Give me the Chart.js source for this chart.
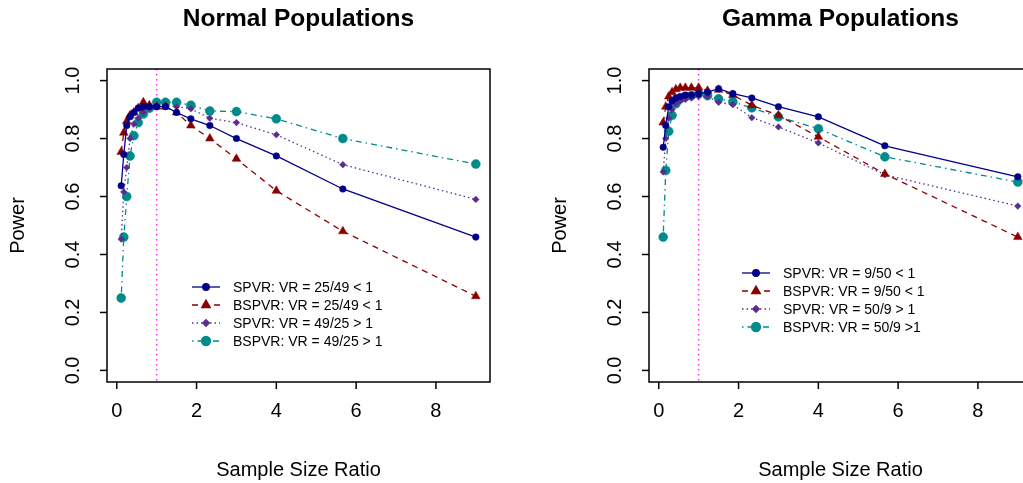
<!DOCTYPE html>
<html>
<head>
<meta charset="utf-8">
<script src="https://cdn.jsdelivr.net/npm/chart.js@4/dist/chart.umd.min.js"></script>
<style>
  html, body { margin: 0; padding: 0; background: #fff; overflow: hidden; width: 1023px; height: 483px; }
  canvas { position: absolute; top: 0; }
  #normal { left: 0; }
  #gamma { left: 542px; }
</style>
</head>
<body>
<canvas id="normal" width="542" height="483"></canvas>
<canvas id="gamma" width="542" height="483"></canvas>
<script>
// Sample size ratios (n1/n2)
const ratios = [0.111, 0.176, 0.25, 0.333, 0.429, 0.538, 0.667, 0.818, 1, 1.222, 1.5, 1.857, 2.333, 3, 4, 5.667, 9];

// Normal populations
const normSpvrLow   = [0.637, 0.745, 0.845, 0.875, 0.89, 0.905, 0.91, 0.91, 0.91, 0.91, 0.89, 0.868, 0.845, 0.80, 0.74, 0.626, 0.46];
const normBspvrLow  = [0.754, 0.82, 0.86, 0.88, 0.89, 0.905, 0.925, 0.915, 0.91, 0.91, 0.89, 0.845, 0.80, 0.73, 0.62, 0.48, 0.256];
const normSpvrHigh  = [0.453, 0.616, 0.70, 0.80, 0.85, 0.87, 0.89, 0.905, 0.91, 0.915, 0.91, 0.903, 0.87, 0.855, 0.813, 0.71, 0.59];
const normBspvrHigh = [0.25, 0.46, 0.60, 0.74, 0.81, 0.855, 0.885, 0.905, 0.925, 0.925, 0.925, 0.915, 0.895, 0.893, 0.868, 0.80, 0.712];
const normLabels = ['SPVR: VR = 25/49 < 1', 'BSPVR: VR = 25/49 < 1', 'SPVR: VR = 49/25 > 1', 'BSPVR: VR = 49/25 > 1'];

// Gamma populations
const gamSpvrLow   = [0.77, 0.845, 0.91, 0.93, 0.94, 0.945, 0.95, 0.95, 0.955, 0.96, 0.972, 0.955, 0.94, 0.91, 0.875, 0.775, 0.668];
const gamBspvrLow  = [0.855, 0.91, 0.945, 0.96, 0.97, 0.975, 0.975, 0.975, 0.975, 0.965, 0.968, 0.95, 0.915, 0.88, 0.806, 0.678, 0.46];
const gamSpvrHigh  = [0.685, 0.80, 0.87, 0.90, 0.92, 0.93, 0.935, 0.94, 0.945, 0.945, 0.925, 0.917, 0.872, 0.84, 0.785, 0.675, 0.567];
const gamBspvrHigh = [0.46, 0.69, 0.825, 0.88, 0.92, 0.937, 0.945, 0.948, 0.955, 0.948, 0.937, 0.927, 0.906, 0.875, 0.834, 0.737, 0.65];
const gamLabels = ['SPVR: VR = 9/50 < 1', 'BSPVR: VR = 9/50 < 1', 'SPVR: VR = 50/9 > 1', 'BSPVR: VR = 50/9 >1'];

const xTicks = [0, 2, 4, 6, 8];
const yTicks = [0, 0.2, 0.4, 0.6, 0.8, 1.0];

const FONT = "'Liberation Sans', Arial, Helvetica, sans-serif";

const styles = [
  { color: '#00008B', dash: [], pointStyle: 'circle', radius: 3.3 },
  { color: '#8B0000', dash: [6, 5], pointStyle: 'triangle', radius: 5 },
  { color: '#5B2C8F', dash: [1.5, 3], pointStyle: 'rectRot', radius: 3.3 },
  { color: '#008B8B', dash: [1.5, 4, 6, 4], pointStyle: 'circle', radius: 4.5 }
];

function pts(values) {
  return ratios.map((r, i) => ({ x: r, y: values[i] }));
}

function makeDatasets(series, labels) {
  return series.map((vals, i) => ({
    label: labels[i],
    data: pts(vals),
    borderColor: styles[i].color,
    backgroundColor: styles[i].color,
    borderWidth: 1.3,
    borderDash: styles[i].dash,
    pointStyle: styles[i].pointStyle,
    pointRadius: styles[i].radius,
    pointBorderWidth: 0.5,
    pointBackgroundColor: styles[i].color,
    pointBorderColor: styles[i].color,
    tension: 0
  }));
}

// R-style frame, axes, titles and legend
const rStyle = {
  id: 'rStyle',
  beforeDatasetsDraw(chart, args, opts) {
    const { ctx, chartArea: a, scales: { x, y } } = chart;
    ctx.save();
    // reference line at ratio 1
    ctx.strokeStyle = 'rgb(255, 40, 255)';
    ctx.lineWidth = 1.5;
    ctx.setLineDash([1.5, 3.5]);
    const x1 = x.getPixelForValue(1);
    ctx.beginPath();
    ctx.moveTo(x1, a.top);
    ctx.lineTo(x1, a.bottom);
    ctx.stroke();
    ctx.setLineDash([]);

    // box
    ctx.strokeStyle = '#000';
    ctx.lineWidth = 1.5;
    ctx.strokeRect(a.left, a.top, a.right - a.left, a.bottom - a.top);

    // x axis ticks + labels
    ctx.fillStyle = '#000';
    ctx.font = '20px ' + FONT;
    ctx.textAlign = 'center';
    ctx.textBaseline = 'middle';
    xTicks.forEach(v => {
      const px = x.getPixelForValue(v);
      ctx.beginPath();
      ctx.moveTo(px, a.bottom);
      ctx.lineTo(px, a.bottom + 7);
      ctx.stroke();
      ctx.fillText(String(v), px, a.bottom + 29);
    });
    // y axis ticks + rotated labels
    yTicks.forEach(v => {
      const py = y.getPixelForValue(v);
      ctx.beginPath();
      ctx.moveTo(a.left, py);
      ctx.lineTo(a.left - 7, py);
      ctx.stroke();
      ctx.save();
      ctx.translate(a.left - 34, py);
      ctx.rotate(-Math.PI / 2);
      ctx.fillText(v.toFixed(1), 0, 0);
      ctx.restore();
    });

    // axis titles
    ctx.fillText('Sample Size Ratio', (a.left + a.right) / 2, 470);
    ctx.save();
    ctx.translate(a.left - 89, (a.top + a.bottom) / 2);
    ctx.rotate(-Math.PI / 2);
    ctx.fillText('Power', 0, 0);
    ctx.restore();

    // main title
    ctx.font = 'bold 24.5px ' + FONT;
    ctx.fillText(opts.title, (a.left + a.right) / 2, 19);
    ctx.restore();
  },
  afterDraw(chart, args, opts) {
    const { ctx } = chart;
    ctx.save();
    ctx.font = '14px ' + FONT;
    ctx.textAlign = 'left';
    ctx.textBaseline = 'middle';
    chart.data.datasets.forEach((ds, i) => {
      const ly = opts.legendY + i * 18;
      const lx = opts.legendX;
      ctx.strokeStyle = ds.borderColor;
      ctx.fillStyle = ds.borderColor;
      ctx.lineWidth = 1.3;
      ctx.setLineDash(ds.borderDash);
      ctx.beginPath();
      ctx.moveTo(lx, ly);
      ctx.lineTo(lx + 28, ly);
      ctx.stroke();
      ctx.setLineDash([]);
      Chart.helpers.drawPoint(ctx, {
        pointStyle: ds.pointStyle, radius: ds.pointRadius, rotation: 0, borderWidth: 0.5
      }, lx + 14, ly);
      ctx.fillStyle = '#000';
      ctx.fillText(ds.label, lx + 41, ly + 1);
    });
    ctx.restore();
  }
};

function makeChart(id, title, series, labels, legendX, legendY) {
  return new Chart(document.getElementById(id), {
    type: 'line',
    data: { datasets: makeDatasets(series, labels) },
    options: {
      responsive: false,
      animation: false,
      events: [],
      layout: { padding: { left: 107, right: 52, top: 69, bottom: 101 } },
      scales: {
        x: { type: 'linear', min: -0.2446, max: 9.3556, display: false },
        y: { type: 'linear', min: -0.04, max: 1.04, display: false }
      },
      plugins: {
        legend: { display: false },
        tooltip: { enabled: false },
        rStyle: { title: title, legendX: legendX, legendY: legendY }
      }
    },
    plugins: [rStyle]
  });
}

makeChart('normal', 'Normal Populations',
  [normSpvrLow, normBspvrLow, normSpvrHigh, normBspvrHigh], normLabels, 192, 287);
makeChart('gamma', 'Gamma Populations',
  [gamSpvrLow, gamBspvrLow, gamSpvrHigh, gamBspvrHigh], gamLabels, 200, 273);
</script>
</body>
</html>
